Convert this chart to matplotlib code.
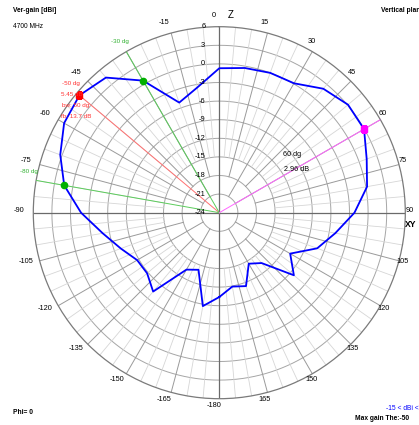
import numpy as np
import matplotlib
matplotlib.use("Agg")
import matplotlib.pyplot as plt
from matplotlib.transforms import offset_copy

plt.rcParams["font.family"] = ["Liberation Sans", "DejaVu Sans"]

# vertical-plane gain, 10 dg steps
theta_dg = list(range(-180, 180, 10))
gain_db = [-10.4, -8.7, -14.2, -13.4, -7.4, -8.8, -8.7, -7.1, -4.9, -1.7,
           1.4, 3.3, 4.9, 5.45, 4.45, 0.6, -5.1, -3.5,
           -0.7, -0.3, 0.0, 0.1, 2.1, 3.1, 2.96, 1.3, 0.2,
           -2.2, -5.0, -7.2, -10.8, -8.3, -13.4, -14.5, -11.4, -11.9]
r_min, r_max = -24, 6
ring_db = list(range(-21, 6, 3))
ring_labels = list(range(-24, 7, 3))
angle_ticks = [a for a in range(-165, 181, 15) if a != -30]  # -30 sits under the green cursor label
main_dg = -50          # red cursor
beam_dg = [-30, -80]   # green -3 dB points
cursor_dg = 60         # magenta cursor
gain_at = dict(zip(theta_dg, gain_db))

W, H = 419, 425
cx, cy, R = 219.3, 212.7, 186
fig = plt.figure(figsize=(W / 100, H / 100), dpi=100)
ax = fig.add_axes([(cx - R) / W, (H - cy - R) / H, 2 * R / W, 2 * R / H], projection="polar")
ax.set_theta_zero_location("N")
ax.set_theta_direction(-1)
ax.set_ylim(r_min, r_max)
ax.set_xticks([]); ax.set_yticks([]); ax.grid(False)
ax.spines["polar"].set_color("#7a7a7a"); ax.spines["polar"].set_linewidth(0.9)

# grid
th = np.linspace(0, 2 * np.pi, 721)
for r in ring_db:
    ax.plot(th, np.full_like(th, r), color="#a6a6a6", lw=0.7, zorder=1)
for a in range(0, 360, 5):
    if a % 90 == 0:
        continue
    if a % 30 == 0:
        r0, c, lw = -21, "#9a9a9a", 0.7
    elif a % 15 == 0:
        r0, c, lw = -18, "#9a9a9a", 0.7
    else:
        r0, c, lw = -15, "#d6d6d6", 0.6
    ax.plot([np.deg2rad(a)] * 2, [r0, r_max], color=c, lw=lw, zorder=1)
for a in (0, 90, 180, 270):
    ax.plot([np.deg2rad(a)] * 2, [r_min, r_max], color="#6a6a6a", lw=0.9, zorder=2)

# cursor lines
ax.plot([np.deg2rad(main_dg)] * 2, [r_min, gain_at[main_dg]], color="#ff7070", lw=0.7, zorder=3)
for d in beam_dg:
    ax.plot([np.deg2rad(d)] * 2, [r_min, r_max], color="#5ccc5c", lw=0.7, zorder=3)
ax.plot([np.deg2rad(cursor_dg)] * 2, [r_min, r_max], color="#ff66ff", lw=0.7, zorder=3)

# pattern
tt = np.deg2rad(theta_dg + [theta_dg[0]])
gg = gain_db + [gain_db[0]]
ax.plot(tt, gg, color="#0000ff", lw=1.3, zorder=5)
ax.plot(np.deg2rad(main_dg), gain_at[main_dg], "s", color="#ff0000", ms=4.5, zorder=6)
for d in beam_dg:
    ax.plot(np.deg2rad(d), gain_at[d], "o", color="#00b000", ms=4.5, zorder=6)
ax.plot(np.deg2rad(cursor_dg), gain_at[cursor_dg], "s", color="#ff00ff", ms=4.5, zorder=6)

# radial labels along 0 dg axis
tr = offset_copy(ax.transData, fig=fig, x=-14, y=0, units="dots")
for r in ring_labels:
    ax.text(0, r, f"{r}", transform=tr, ha="right", va="center", fontsize=5.3, zorder=7)

# angle labels
ta = offset_copy(ax.transData, fig=fig, x=-5, y=2, units="dots")
r_lab = r_min + 195 / R * (r_max - r_min)
for a in angle_ticks:
    lab = "-180" if a == 180 else str(a)
    ax.text(np.deg2rad(a), r_lab, lab, transform=ta, ha="center", va="center",
            fontsize=5.3, clip_on=False)


def ftext(x, y, s, **kw):
    fig.text(x / W, 1 - y / H, s, va="center", **kw)


ftext(13, 11, "Ver-gain [dBi]", fontsize=4.8, weight="bold")
ftext(13, 26, "4700 MHz", fontsize=4.8)
ftext(381, 11, "Vertical plane", fontsize=4.8, weight="bold")
ftext(228, 15, "Z", fontsize=7)
ftext(405, 224, "XY", fontsize=6.2, weight="bold")
ftext(13, 413, "Phi= 0", fontsize=4.8, weight="bold")
ftext(386, 408, "-15 < dBi < 5.6", fontsize=4.8, color="#0000ff")
ftext(355, 419, "Max gain The:-50", fontsize=4.8, weight="bold")

red = "#ff3030"
ftext(62, 83, f"{main_dg} dg", fontsize=4.5, color=red)
ftext(61, 95, f"{gain_at[main_dg]:.2f} dB", fontsize=4.5, color=red)
ftext(62, 106, "bw: 50 dg", fontsize=4.5, color=red)
ftext(61, 117, "fb: 13.7 dB", fontsize=4.5, color=red)
ftext(111, 42, f"{beam_dg[0]} dg", fontsize=4.5, color="#30b030")
ftext(20, 171, f"{beam_dg[1]} dg", fontsize=4.5, color="#30b030")
ftext(283, 155, f"{cursor_dg} dg", fontsize=5.2)
ftext(284, 169, f"{gain_at[cursor_dg]:.2f} dB", fontsize=5.2)

fig.savefig("out.png", dpi=100)
